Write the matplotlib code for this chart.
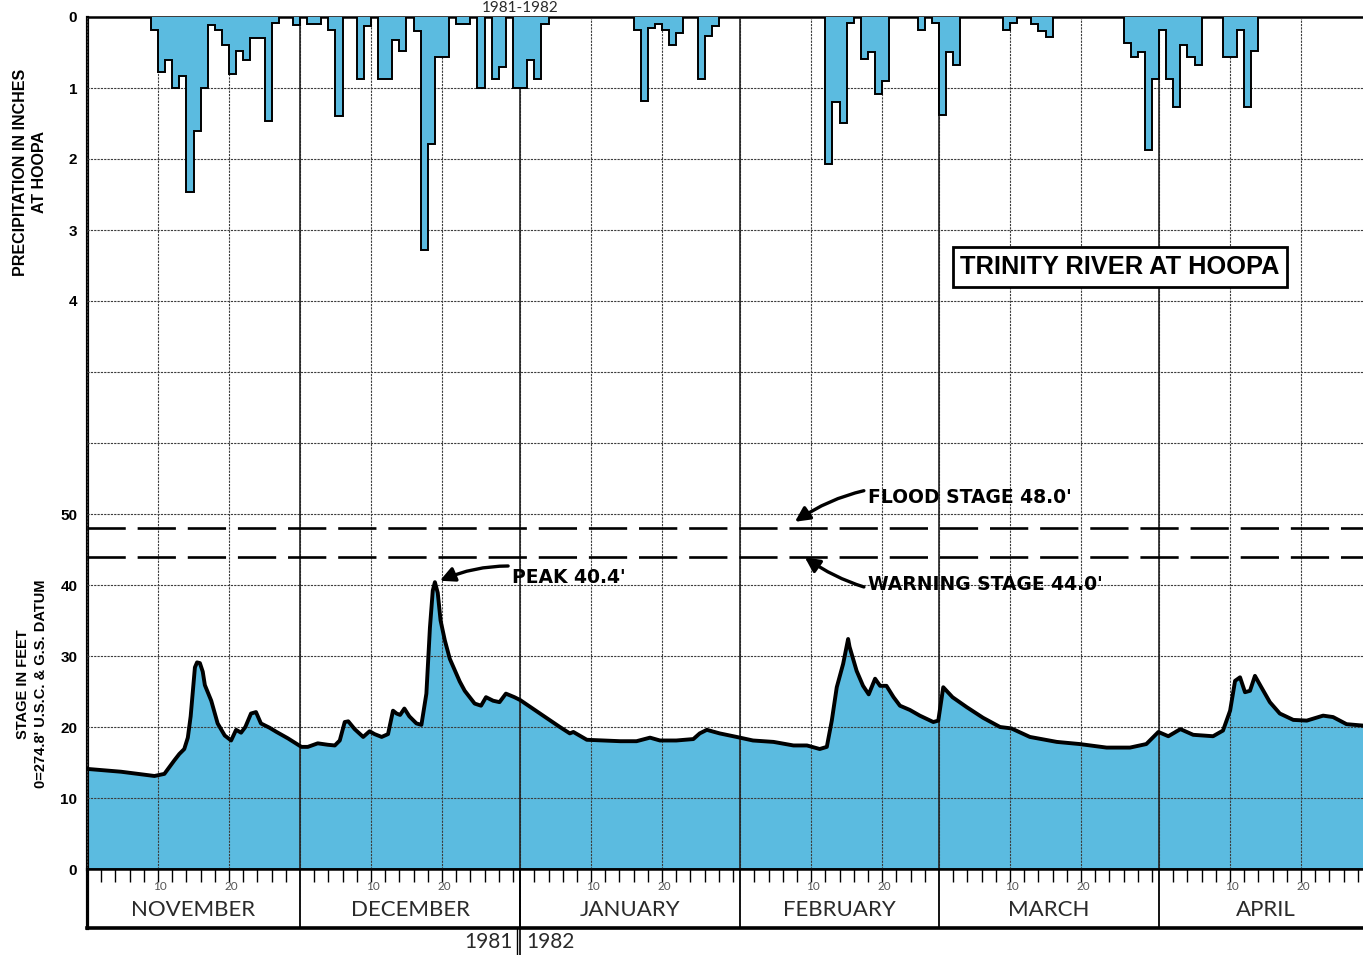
import numpy as np
import matplotlib
matplotlib.use("Agg")
import matplotlib.pyplot as plt

# Trinity River at Hoopa, water year 1981-1982 (day 0 = Nov 1)
months = ["NOVEMBER", "DECEMBER", "JANUARY", "FEBRUARY", "MARCH", "APRIL"]
month_days = [30, 31, 31, 28, 31, 30]

# daily precipitation at Hoopa (inches), only the rainy days
rain_day = [9, 10, 11, 12, 13, 14, 15, 16, 17, 18, 19, 20, 21, 22, 23, 24, 25, 26,
            29, 31, 32, 34, 35, 38, 39, 41, 42, 43, 44, 46, 47, 48, 49, 50, 52, 53,
            55, 57, 58, 60, 61, 62, 63, 64,
            77, 78, 79, 80, 81, 82, 83, 86, 87, 88,
            104, 105, 106, 107, 109, 110, 111, 112, 117, 119, 120, 121, 122,
            129, 130, 133, 134, 135,
            146, 147, 148, 149, 150, 151, 152, 153, 154, 155, 156,
            160, 161, 162, 163, 164]
rain_in = [0.18, 0.78, 0.6, 1.0, 0.83, 2.47, 1.6, 1.0, 0.11, 0.18, 0.39, 0.8, 0.48, 0.6, 0.3, 0.3, 1.47, 0.08,
           0.11, 0.1, 0.1, 0.18, 1.39, 0.88, 0.13, 0.88, 0.88, 0.32, 0.48, 0.2, 3.28, 1.79, 0.57, 0.57, 0.1, 0.1,
           1.0, 0.88, 0.7, 1.0, 1.0, 0.6, 0.88, 0.1,
           0.18, 1.18, 0.16, 0.1, 0.18, 0.39, 0.22, 0.88, 0.27, 0.12,
           2.07, 1.2, 1.49, 0.08, 0.59, 0.5, 1.08, 0.9, 0.18, 0.08, 1.38, 0.5, 0.68,
           0.18, 0.08, 0.1, 0.2, 0.28,
           0.37, 0.57, 0.5, 1.87, 0.88, 0.18, 0.88, 1.27, 0.4, 0.57, 0.68,
           0.57, 0.57, 0.18, 1.27, 0.48]

# river stage (feet)
stage_day = [0, 4.8, 9.5, 10.9, 12.3, 13.0, 13.7, 14.2, 14.6, 14.9, 15.2, 15.5, 15.9, 16.3,
             16.6, 17.5, 18.4, 19.4, 20.3, 21.0, 21.7, 22.3, 23.1, 23.8, 24.5, 25.7, 26.7,
             28.3, 30.2, 31.1, 32.5, 33.9, 34.9, 35.6, 36.3, 36.8, 37.7, 38.9, 39.8, 40.5,
             41.5, 42.4, 43.1, 43.6, 44.1, 44.7, 45.4, 46.4, 47.1, 47.8, 48.3, 48.7, 49.0,
             49.4, 49.8, 50.4, 51.1, 51.8, 52.5, 53.2, 54.6, 55.5, 56.2, 57.2, 58.1, 59.0,
             60.2, 61.0, 63.8, 66.6, 68.0, 68.5, 70.4, 72.7, 75.1, 77.4, 79.3, 80.7, 83.0,
             85.4, 86.3, 87.3, 89.1, 91.5, 93.8, 96.7, 99.5, 101.4, 103.2, 104.2, 104.9,
             105.6, 106.5, 107.2, 107.4, 108.4, 109.3, 110.1, 111.0, 111.7, 112.6, 113.6,
             114.5, 115.9, 117.3, 119.2, 119.9, 120.6, 121.9, 123.9, 126.2, 128.6, 130.2,
             132.8, 136.6, 139.8, 143.6, 146.9, 149.2, 150.9, 152.3, 154.0, 155.8, 158.6,
             160.0, 161.0, 161.7, 162.4, 163.1, 163.8, 164.5, 165.4, 166.6, 168.0, 169.9,
             171.8, 174.1, 175.5, 177.4, 179.7]
stage_ft = [14.1, 13.7, 13.1, 13.4, 15.3, 16.2, 16.9, 18.5, 21.5, 25.0, 28.4, 29.1, 29.0, 27.8,
            25.9, 23.7, 20.5, 18.8, 18.1, 19.6, 19.2, 20.0, 21.9, 22.1, 20.5, 19.9, 19.3,
            18.4, 17.2, 17.2, 17.7, 17.5, 17.4, 18.1, 20.7, 20.8, 19.7, 18.6, 19.4, 19.0,
            18.6, 19.0, 22.3, 21.9, 21.7, 22.6, 21.5, 20.5, 20.3, 24.7, 34.0, 39.2, 40.4,
            38.9, 35.0, 32.2, 29.6, 28.0, 26.4, 25.1, 23.3, 23.0, 24.2, 23.7, 23.5, 24.7,
            24.2, 23.8, 21.9, 20.0, 19.1, 19.3, 18.2, 18.1, 18.0, 18.0, 18.5, 18.1, 18.1,
            18.3, 19.1, 19.6, 19.1, 18.6, 18.1, 17.9, 17.4, 17.4, 16.9, 17.2, 20.9,
            25.6, 28.9, 32.4, 31.3, 27.9, 25.8, 24.6, 26.8, 25.8, 25.8, 24.2,
            23.0, 22.4, 21.6, 20.7, 20.9, 25.6, 24.2, 22.8, 21.3, 20.0, 19.8,
            18.6, 17.9, 17.6, 17.1, 17.1, 17.6, 19.3, 18.7, 19.7, 18.9, 18.7,
            19.5, 22.3, 26.5, 27.0, 24.9, 25.1, 27.2, 25.6, 23.5, 21.9, 21.0,
            20.9, 21.6, 21.4, 20.4, 20.2]

flood_stage = 48.0
warning_stage = 44.0

blue = "#5bbbe0"
bold_font = ["Liberation Sans", "DejaVu Sans"]
wide_bold = ["DejaVu Sans"]
light_font = ["Lato", "DejaVu Sans"]

W, H = 1363, 955
fig = plt.figure(figsize=(W / 100, H / 100), dpi=100)
fig.patch.set_facecolor("white")

month_start = np.concatenate([[0], np.cumsum(month_days)[:-1]])
xmax = (W - 87) / 7.1

# main axes: stage (bottom scale)
ax = fig.add_axes([87 / W, 1 - 869 / H, (W - 87) / W, (869 - 17) / H])
ax.set_xlim(0, xmax)
ax.set_ylim(0, 120)
ax.set_yticks(range(0, 120, 10))
ax.set_yticklabels([str(v) if v <= 50 else "" for v in range(0, 120, 10)],
                   fontfamily=bold_font, fontweight="bold", fontsize=11)
grid_x = sorted(list(month_start) + list(month_start + 10) + list(month_start + 20))
ax.set_xticks(grid_x)
ax.set_xticklabels([])
ax.tick_params(length=0, pad=7)
ax.grid(True, color="#3c3c3c", lw=0.8, ls=(0, (2, 1)))
ax.set_axisbelow(False)
for ms in month_start[1:]:
    ax.axvline(ms, color="#222222", lw=1.2, zorder=2.6)
ax.spines["right"].set_visible(False)
ax.spines["left"].set_linewidth(2.3)
ax.spines["top"].set_linewidth(1.8)
ax.spines["bottom"].set_linewidth(1.8)

ax.fill_between(stage_day, stage_ft, 0, color=blue, lw=0, zorder=1)
ax.plot(stage_day, stage_ft, color="black", lw=2.8, solid_joinstyle="round",
        solid_capstyle="round", zorder=3)

for lvl in (flood_stage, warning_stage):
    ax.axhline(lvl, color="black", lw=1.9, dashes=(14.5, 4.5), zorder=3)

# precipitation (top scale, inverted)
ax2 = ax.twinx()
ax2.set_ylim(12, 0)
ax2.yaxis.tick_left()
ax2.set_yticks([0, 1, 2, 3, 4])
ax2.set_yticklabels(["0", "1", "2", "3", "4"], fontfamily=bold_font,
                    fontweight="bold", fontsize=11)
ax2.tick_params(length=0, pad=7)
for s in ax2.spines.values():
    s.set_visible(False)
rain = np.zeros(sum(month_days))
rain[rain_day] = rain_in
edges = np.arange(len(rain) + 1)
ax2.stairs(rain, edges, fill=True, color=blue, zorder=1)
ax2.stairs(rain, edges, color="black", lw=1.4, baseline=0, zorder=2)

# annotations
ipk = int(np.argmax(stage_ft))
arrow = dict(arrowstyle="-|>", color="black", lw=2.4, mutation_scale=22,
             shrinkA=1, shrinkB=0)
note = dict(ha="left", va="center", fontsize=13.5, fontweight="bold",
            fontfamily=wide_bold, zorder=5)
ax2.annotate("PEAK 40.4'", xy=(stage_day[ipk] + 0.7, stage_ft[ipk] + 0.2),
             xycoords=ax.transData, xytext=(59.9, 41.1), textcoords=ax.transData,
             arrowprops=dict(arrow, connectionstyle="arc3,rad=0.2"), **note)
ax2.annotate("FLOOD STAGE 48.0'", xy=(99.7, flood_stage + 0.9),
             xycoords=ax.transData, xytext=(110.0, 52.3), textcoords=ax.transData,
             arrowprops=dict(arrow, connectionstyle="arc3,rad=0.25"), **note)
ax2.annotate("WARNING STAGE 44.0'", xy=(101.1, warning_stage - 0.1),
             xycoords=ax.transData, xytext=(110.0, 40.1), textcoords=ax.transData,
             arrowprops=dict(arrow, connectionstyle="arc3,rad=-0.25"), **note)
ax2.text(145.5, 84.8, "TRINITY RIVER AT HOOPA", transform=ax.transData,
         ha="center", va="center", fontsize=18.3, fontweight="bold",
         fontfamily=bold_font, zorder=5,
         bbox=dict(boxstyle="square,pad=0.3", fc="white", ec="black", lw=2.0))

# axis titles
fig.text(30 / W, 1 - 172 / H, "PRECIPITATION IN INCHES\nAT HOOPA", rotation=90,
         ha="center", va="center", multialignment="center", fontsize=11.5,
         fontweight="bold", fontfamily=bold_font, linespacing=1.3)
fig.text(32 / W, 1 - 684 / H, "STAGE IN FEET\n0=274.8' U.S.C. & G.S. DATUM", rotation=90,
         ha="center", va="center", multialignment="center", fontsize=10.5,
         fontweight="bold", fontfamily=bold_font, linespacing=1.3)

# month band below the graph
axb = fig.add_axes([87 / W, 1 - 928 / H, (W - 87) / W, (928 - 869) / H])
axb.set_xlim(0, xmax)
axb.set_ylim(0, 1)
axb.set_yticks([])
ticks = [ms + d for ms, n in zip(month_start, month_days) for d in range(2, n, 2)]
axb.set_xticks(ticks)
axb.tick_params(axis="x", top=True, bottom=False, direction="in", length=9,
                width=1.0, labelbottom=False)
axb.spines["right"].set_visible(False)
axb.spines["left"].set_linewidth(2.3)
axb.spines["bottom"].set_linewidth(2.6)
axb.spines["top"].set_linewidth(1.8)
for ms, n, name in zip(month_start, month_days, months):
    if ms > 0:
        axb.axvline(ms, color="black", lw=1.3)
    for d in (10, 20):
        axb.text(ms + d + 0.3, 0.71, str(d), ha="center", va="center", fontsize=8.5,
                 color="#555555", fontfamily=light_font)
    axb.text(ms + n / 2, 0.31, name, ha="center", va="center", fontsize=16,
             color="#2a2a2a", fontfamily=light_font)

# year divider
jan1 = month_start[2]
xt = axb.get_xaxis_transform()
axb.plot([jan1, jan1], [-0.5, 1], color="black", lw=1.2, transform=xt, clip_on=False)
axb.plot([jan1 - 0.5, jan1 - 0.5], [-0.5, 0], color="black", lw=1.0, transform=xt,
         clip_on=False)
axb.text(jan1 - 1.0, -0.23, "1981", transform=xt, ha="right", va="center",
         fontsize=15, color="#2a2a2a", fontfamily=light_font)
axb.text(jan1 + 0.9, -0.23, "1982", transform=xt, ha="left", va="center",
         fontsize=15, color="#2a2a2a", fontfamily=light_font)
fig.text(520 / W, 1 - 1 / H, "1981-1982", ha="center", va="top",
         fontsize=11, color="#2a2a2a", fontfamily=light_font)

fig.savefig("out.png", dpi=100)
